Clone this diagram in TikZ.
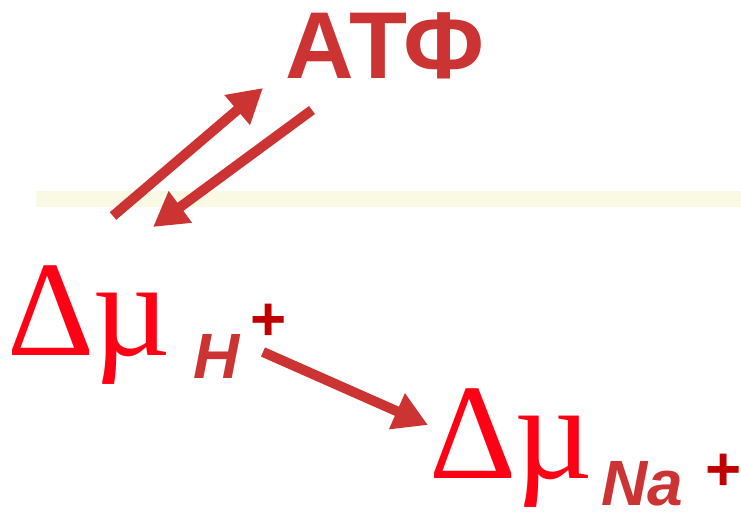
\documentclass[tikz,border=0pt]{standalone}
\usepackage{fontspec}
\setmainfont{Liberation Serif}
\newfontfamily\labelsans{Liberation Sans}
\usetikzlibrary{arrows.meta}

\definecolor{arrowred}{RGB}{204,51,51}
\definecolor{deltared}{RGB}{255,0,20}
\definecolor{plusred}{RGB}{192,0,0}
\definecolor{bandyellow}{RGB}{250,249,228}

\begin{document}
\begin{tikzpicture}[
        x=1pt, y=-1pt,
        flowarrow/.style={arrowred, line width=10pt,
            -{Triangle[length=34pt, width=37pt]}},
        potential/.style={deltared, inner sep=0pt, anchor=base west,
            font=\fontsize{136}{140}\selectfont},
        ionsub/.style={arrowred, inner sep=0pt, anchor=base west,
            font=\labelsans\bfseries\itshape\fontsize{64}{70}\selectfont},
        charge/.style={plusred, inner sep=0pt,
            font=\labelsans\bfseries\fontsize{62}{66}\selectfont}
    ]
        \useasboundingbox (0,0) rectangle (741,519);

        % Membrane band
        \fill[bandyellow] (36,191) rectangle (741,207);

        % ATP
        \node[arrowred, inner sep=0pt, anchor=base,
            font=\labelsans\bfseries\fontsize{95}{100}\selectfont]
            (atp) at (385,78) {АТФ};

        % Proton potential
        \node[potential] (dmuH) at (9,355) {∆µ};
        \node[ionsub] (subH) at (193,378) {H};
        \node[charge] (plusH) at (269,322) {+};

        % Sodium potential
        \node[potential] (dmuNa) at (431,478) {∆µ};
        \node[ionsub] (subNa) at (601,505) {Na};
        \node[charge] (plusNa) at (724,472) {+};

        % Arrow ends
        \coordinate (synthFrom) at (113,216);
        \coordinate (synthTo) at (263,88);
        \coordinate (hydrFrom) at (312,110);
        \coordinate (hydrTo) at (153,227);
        \coordinate (exchFrom) at (263,352);
        \coordinate (exchTo) at (428,425);

        % Arrows
        \draw[flowarrow] (synthFrom) -- (synthTo);
        \draw[flowarrow] (hydrFrom) -- (hydrTo);
        \draw[flowarrow] (exchFrom) -- (exchTo);
\end{tikzpicture}
\end{document}
